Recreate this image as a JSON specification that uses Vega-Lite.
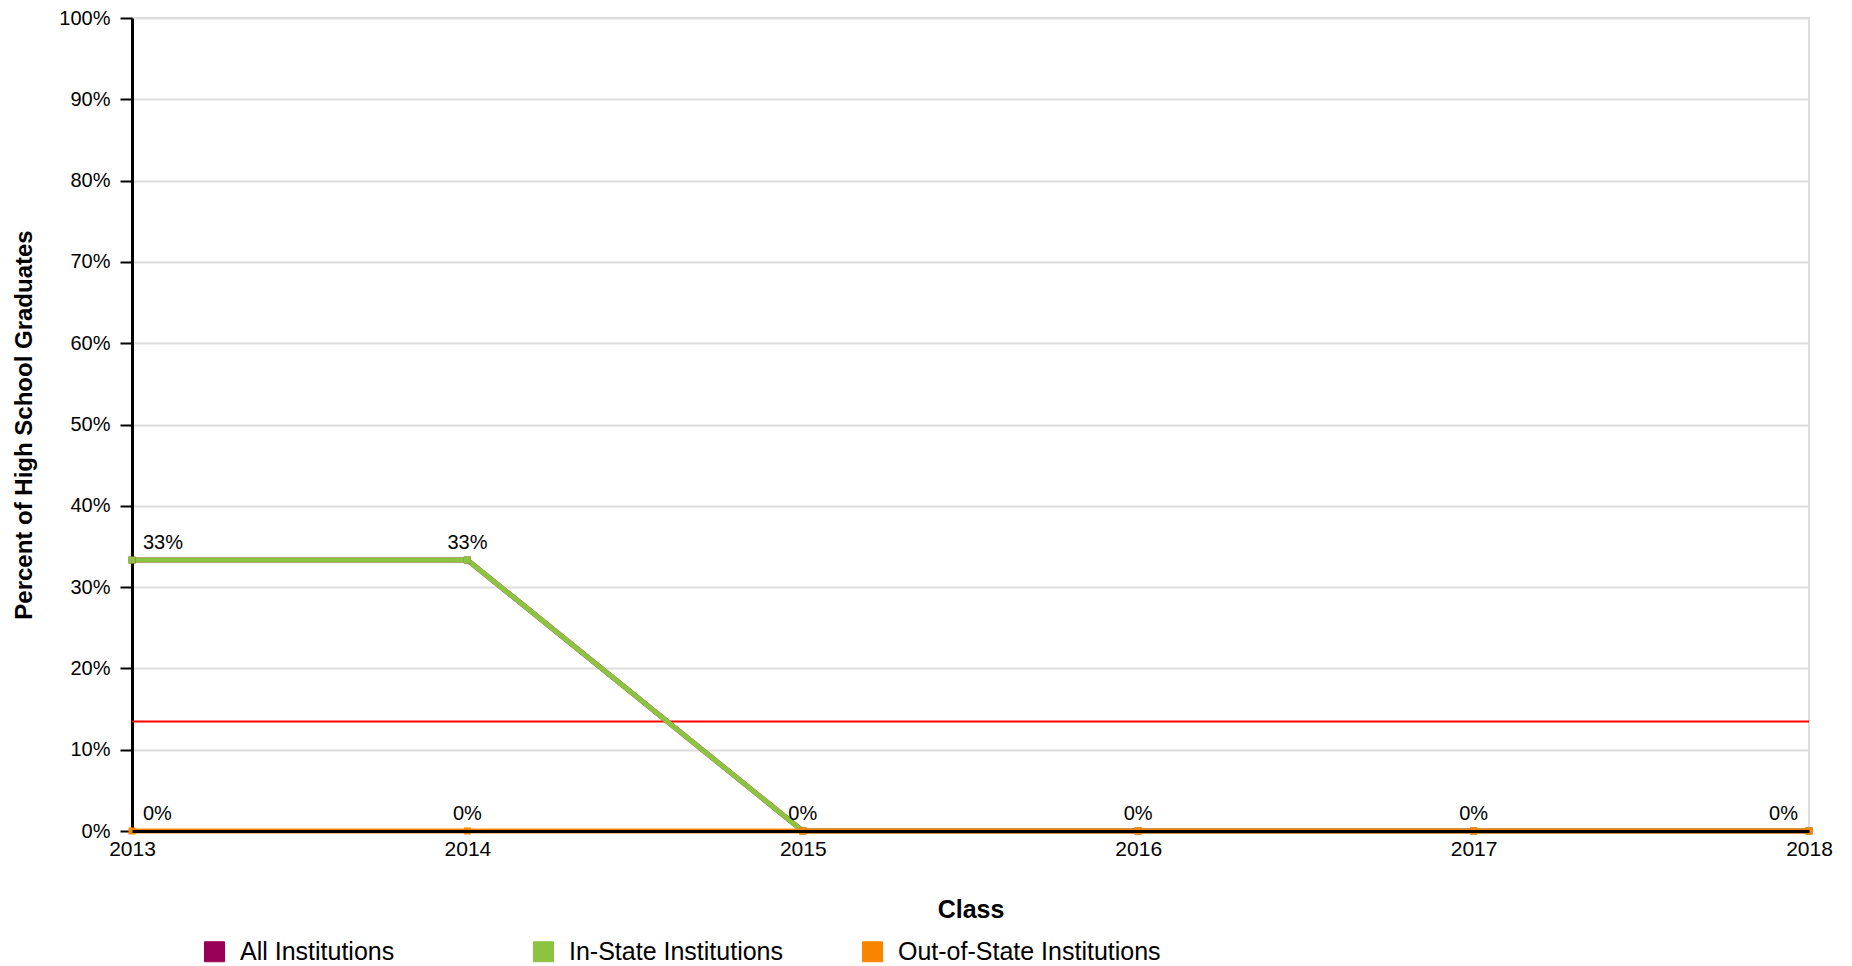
{
  "$schema": "https://vega.github.io/schema/vega-lite/v6.json",
  "width": 1677,
  "height": 813,
  "autosize": {"type": "none"},
  "padding": {"left": 132, "top": 18, "right": 43, "bottom": 135},
  "background": "white",
  "config": {
    "font": "Liberation Sans",
    "view": {"stroke": "#DDDDDD", "strokeWidth": 2},
    "axisY": {
      "domainColor": "black", "domainWidth": 3,
      "tickColor": "black", "tickWidth": 2, "tickSize": 12,
      "labelPadding": 10, "labelFontSize": 20, "labelColor": "black",
      "gridColor": "#DDDDDD", "gridWidth": 2,
      "titleFontSize": 24, "titleFontWeight": "bold", "titleColor": "black", "titlePadding": 22
    },
    "axisX": {
      "domainColor": "black", "domainWidth": 3,
      "ticks": false, "labelPadding": 7, "labelFontSize": 21, "labelColor": "black",
      "labelFlush": false, "labelOverlap": false, "grid": false,
      "titleFontSize": 25, "titleFontWeight": "bold", "titleColor": "black", "titlePadding": 38
    },
    "legend": {
      "orient": "none", "legendX": 70, "legendY": 921, "direction": "horizontal",
      "columns": 3, "gridAlign": "all", "columnPadding": 28,
      "symbolType": "square", "symbolSize": 400, "symbolStrokeColor": "#aaaaaa", "symbolStrokeWidth": 1,
      "labelFontSize": 25, "labelOffset": 13, "labelColor": "black", "labelLimit": 500, "title": null
    }
  },
  "datasets": {
    "rates": [
      {"Class": 2013, "series": "All Institutions", "rate": 0.3333},
      {"Class": 2014, "series": "All Institutions", "rate": 0.3333},
      {"Class": 2015, "series": "All Institutions", "rate": 0},
      {"Class": 2016, "series": "All Institutions", "rate": 0},
      {"Class": 2017, "series": "All Institutions", "rate": 0},
      {"Class": 2018, "series": "All Institutions", "rate": 0},
      {"Class": 2013, "series": "In-State Institutions", "rate": 0.3333},
      {"Class": 2014, "series": "In-State Institutions", "rate": 0.3333},
      {"Class": 2015, "series": "In-State Institutions", "rate": 0},
      {"Class": 2016, "series": "In-State Institutions", "rate": 0},
      {"Class": 2017, "series": "In-State Institutions", "rate": 0},
      {"Class": 2018, "series": "In-State Institutions", "rate": 0},
      {"Class": 2013, "series": "Out-of-State Institutions", "rate": 0},
      {"Class": 2014, "series": "Out-of-State Institutions", "rate": 0},
      {"Class": 2015, "series": "Out-of-State Institutions", "rate": 0},
      {"Class": 2016, "series": "Out-of-State Institutions", "rate": 0},
      {"Class": 2017, "series": "Out-of-State Institutions", "rate": 0},
      {"Class": 2018, "series": "Out-of-State Institutions", "rate": 0}
    ],
    "benchmark": [{"label": "Reference", "rate": 0.1346}]
  },
  "layer": [
    {
      "data": {"name": "benchmark"},
      "mark": {"type": "rule", "color": "#FF0000", "strokeWidth": 2},
      "encoding": {
        "y": {"field": "rate", "type": "quantitative", "scale": {"domain": [0, 1]},
              "title": "Percent of High School Graduates",
              "axis": {"values": [0, 0.1, 0.2, 0.3, 0.4, 0.5, 0.6, 0.7, 0.8, 0.9, 1], "format": ".0%"}}
      }
    },
    {
      "data": {"name": "rates"},
      "mark": {"type": "line", "strokeWidth": 5},
      "encoding": {
        "x": {"field": "Class", "type": "quantitative", "scale": {"domain": [2013, 2018], "nice": false, "zero": false},
              "title": "Class", "axis": {"values": [2013, 2014, 2015, 2016, 2017, 2018], "format": "d", "zindex": 2}},
        "y": {"field": "rate", "type": "quantitative", "title": "Percent of High School Graduates"},
        "color": {"field": "series", "type": "nominal",
                  "scale": {"domain": ["All Institutions", "In-State Institutions", "Out-of-State Institutions"],
                            "range": ["#990055", "#8CC43F", "#F88400"]}}
      }
    },
    {
      "data": {"name": "rates"},
      "mark": {"type": "point", "shape": "square", "filled": true, "size": 49, "opacity": 1},
      "encoding": {
        "x": {"field": "Class", "type": "quantitative", "title": "Class"},
        "y": {"field": "rate", "type": "quantitative", "title": "Percent of High School Graduates"},
        "color": {"field": "series", "type": "nominal"}
      }
    },
    {
      "data": {"name": "rates"},
      "transform": [
        {"aggregate": [{"op": "count", "as": "n"}], "groupby": ["Class", "rate"]},
        {"filter": "datum.Class == 2013"}
      ],
      "mark": {"type": "text", "align": "left", "baseline": "alphabetic", "dx": 11, "dy": -11, "fontSize": 20, "color": "black"},
      "encoding": {
        "x": {"field": "Class", "type": "quantitative", "title": "Class"},
        "y": {"field": "rate", "type": "quantitative", "title": "Percent of High School Graduates"},
        "text": {"field": "rate", "type": "quantitative", "format": ".0%"}
      }
    },
    {
      "data": {"name": "rates"},
      "transform": [
        {"aggregate": [{"op": "count", "as": "n"}], "groupby": ["Class", "rate"]},
        {"filter": "datum.Class > 2013 && datum.Class < 2018"}
      ],
      "mark": {"type": "text", "align": "center", "baseline": "alphabetic", "dy": -11, "fontSize": 20, "color": "black"},
      "encoding": {
        "x": {"field": "Class", "type": "quantitative", "title": "Class"},
        "y": {"field": "rate", "type": "quantitative", "title": "Percent of High School Graduates"},
        "text": {"field": "rate", "type": "quantitative", "format": ".0%"}
      }
    },
    {
      "data": {"name": "rates"},
      "transform": [
        {"aggregate": [{"op": "count", "as": "n"}], "groupby": ["Class", "rate"]},
        {"filter": "datum.Class == 2018"}
      ],
      "mark": {"type": "text", "align": "right", "baseline": "alphabetic", "dx": -11, "dy": -11, "fontSize": 20, "color": "black"},
      "encoding": {
        "x": {"field": "Class", "type": "quantitative", "title": "Class"},
        "y": {"field": "rate", "type": "quantitative", "title": "Percent of High School Graduates"},
        "text": {"field": "rate", "type": "quantitative", "format": ".0%"}
      }
    }
  ]
}
